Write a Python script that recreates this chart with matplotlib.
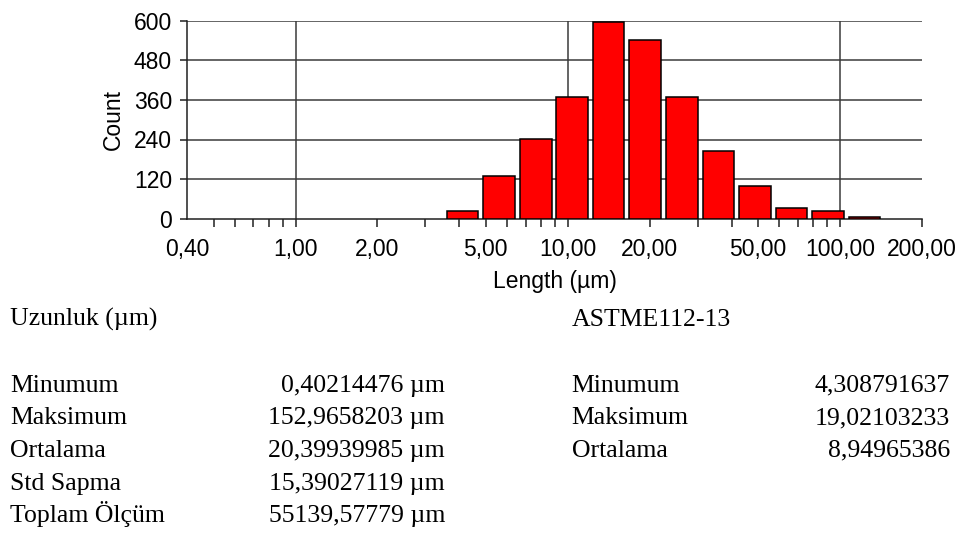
import matplotlib
matplotlib.use("Agg")
import matplotlib.pyplot as plt
import numpy as np
from matplotlib.ticker import FixedLocator, NullFormatter

# ---- data ----
bin_edges = [3.52, 4.78, 6.52, 8.90, 12.1, 16.5, 22.5, 30.7, 41.7, 56.9, 77.3, 105.5, 143.5]
counts = [22, 129, 243, 370, 596, 543, 370, 204, 100, 31, 22, 5]
major_ticks = [0.4, 1, 2, 5, 10, 20, 50, 100, 200]
major_labels = ["0,40", "1,00", "2,00", "5,00", "10,00", "20,00", "50,00", "100,00", "200,00"]
y_ticks = [0, 120, 240, 360, 480, 600]

left_labels = ["Minumum", "Maksimum", "Ortalama", "Std Sapma", "Toplam Ölçüm"]
left_values = ["0,40214476 µm", "152,9658203 µm", "20,39939985 µm", "15,39027119 µm", "55139,57779 µm"]
right_labels = ["Minumum", "Maksimum", "Ortalama"]
right_values = ["4,308791637", "19,02103233", "8,94965386"]

W, H = 960, 533
fig = plt.figure(figsize=(W / 100, H / 100), dpi=100)
ax_l, ax_r = 187.3 / W, 921.7 / W
ax_b, ax_t = 1 - 218.7 / H, 1 - 20.7 / H
ax = fig.add_axes([ax_l, ax_b, ax_r - ax_l, ax_t - ax_b])

sans = "Liberation Sans"
serif = "Liberation Serif"
grid_c = "#3a3a3a"
tfs = 16.5

ax.set_xscale("log")
ax.set_xlim(0.4, 200)
ax.set_ylim(0, 600)

# bars (slightly narrower than the bins, in log space)
shrink = 10 ** (2.4 / 272.0)
lefts = [bin_edges[i] * shrink for i in range(len(counts))]
rights = [bin_edges[i + 1] / shrink for i in range(len(counts))]
widths = [r - l for l, r in zip(lefts, rights)]
ax.bar(lefts, counts, width=widths, align="edge", color="#ff0000",
       edgecolor="black", linewidth=1.1, zorder=3)

# grid
for y in y_ticks[1:]:
    ax.axhline(y, color=grid_c, linewidth=1.1, zorder=1)
for x in [1, 10, 100]:
    ax.axvline(x, color=grid_c, linewidth=1.1, zorder=1)

for s in ["top", "right"]:
    ax.spines[s].set_visible(False)
ax.spines["left"].set_color("#202020")
ax.spines["bottom"].set_color("#202020")
ax.spines["left"].set_linewidth(1.1)
ax.spines["bottom"].set_linewidth(1.1)

# x ticks
ax.xaxis.set_major_locator(FixedLocator(major_ticks))
ax.set_xticklabels(major_labels, fontfamily=sans, fontsize=tfs)
minor = []
for dec in [0.1, 1, 10, 100]:
    for m in range(2, 10):
        v = m * dec
        if 0.4 < v < 200 and v not in major_ticks:
            minor.append(v)
ax.xaxis.set_minor_locator(FixedLocator(minor))
ax.xaxis.set_minor_formatter(NullFormatter())
ax.tick_params(axis="x", which="both", direction="out", length=6, width=1.1,
               color="#202020", pad=8)
ax.xaxis.get_major_ticks()[0].tick1line.set_visible(False)

# y ticks
ax.set_yticks(y_ticks)
ax.set_yticklabels([str(v) for v in y_ticks], fontfamily=sans, fontsize=tfs)
ax.tick_params(axis="y", direction="out", length=5, width=1.1, color="#202020", pad=6)

ax.set_xlabel("Length (µm)", fontfamily=sans, fontsize=tfs, va="center")
ax.xaxis.set_label_coords(0.5, -0.315)
ax.set_ylabel("Count", fontfamily=sans, fontsize=tfs, va="center")
ax.yaxis.set_label_coords((113 - 187.3) / (921.7 - 187.3), 0.5)

# text block
fs = 18.5
def fy(py):
    return 1 - py / H

fig.text(10 / W, fy(326), "Uzunluk (µm)", fontfamily=serif, fontsize=fs, va="baseline", ha="left")
fig.text(571.7 / W, fy(326), "ASTME112-13", fontfamily=serif, fontsize=fs, va="baseline", ha="left")
rows = [391.7, 424.3, 456.9, 489.6, 522.4]
for i, (lab, val) in enumerate(zip(left_labels, left_values)):
    fig.text(10 / W, fy(rows[i]), lab, fontfamily=serif, fontsize=fs, va="baseline", ha="left")
    fig.text(445 / W, fy(rows[i]), val, fontfamily=serif, fontsize=fs, va="baseline", ha="right")
for i, (lab, val) in enumerate(zip(right_labels, right_values)):
    fig.text(571.7 / W, fy(rows[i]), lab, fontfamily=serif, fontsize=fs, va="baseline", ha="left")
    fig.text(950 / W, fy(rows[i]), val, fontfamily=serif, fontsize=fs, va="baseline", ha="right")

fig.savefig("out.png", dpi=100)
